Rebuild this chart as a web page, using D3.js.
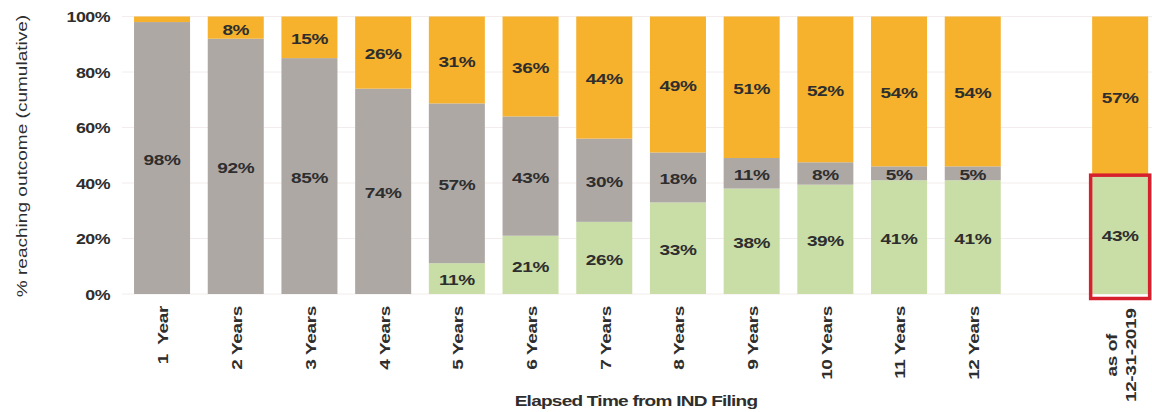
<!DOCTYPE html>
<html>
<head>
<meta charset="utf-8">
<script src="https://cdn.jsdelivr.net/npm/d3@7"></script>
<style>
  html, body { margin: 0; padding: 0; background: #ffffff; }
  svg { display: block; font-family: "Liberation Sans", Arial, sans-serif; }
  .pre { white-space: pre; }
</style>
</head>
<body>
<svg id="chart" width="1152" height="412"></svg>
<script>
// Category labels (a blank slot separates the yearly bars from the current snapshot)
const categories = ["1  Year", "2 Years", "3 Years", "4 Years", "5 Years", "6 Years",
  "7 Years", "8 Years", "9 Years", "10 Years", "11 Years", "12 Years", "", "as of\n12-31-2019"];

// Cumulative share of INDs reaching each outcome (percent)
const approved     = [0, 0, 0, 0, 11, 21, 26, 33, 38, 39, 41, 41, null, 43];
const ongoing      = [98, 92, 85, 74, 57, 43, 30, 18, 11, 8, 5, 5, null, 0];
const discontinued = [2, 8, 15, 26, 31, 36, 44, 49, 51, 52, 54, 54, null, 57];

const yTicks = [0, 0.2, 0.4, 0.6, 0.8, 1.0];

const keys = ["approved", "ongoing", "discontinued"];
const colors = { approved: "#c9dda6", ongoing: "#aea8a5", discontinued: "#f6b12d" };
const highlightIndex = 13;          // the snapshot bar whose green segment is boxed
const WIDE = "scale(1.27,1)";       // wide sans face used throughout
const INK = "#2e2e2e";

const rows = categories.map((c, i) => ({
  i, label: c,
  approved: approved[i], ongoing: ongoing[i], discontinued: discontinued[i]
})).filter(r => r.approved !== null);

const svg = d3.select("#chart");

const x = d3.scaleBand()
  .domain(d3.range(categories.length))
  .range([125.2, 1157])
  .paddingInner(0.24)
  .paddingOuter(0.12);

const y = d3.scaleLinear().domain([0, 1]).range([294, 16.5]);

// light horizontal gridlines
svg.append("g")
  .selectAll("line")
  .data(yTicks)
  .join("line")
  .attr("x1", 122).attr("x2", 1152)
  .attr("y1", d => y(d)).attr("y2", d => y(d))
  .attr("stroke", "#f3ecec")
  .attr("stroke-width", 1);

// y axis tick labels
const yAxis = svg.append("g")
  .attr("transform", "translate(125,0)")
  .call(d3.axisLeft(y).tickValues(yTicks).tickFormat(d3.format(".0%")).tickSize(0));
yAxis.select(".domain").remove();
yAxis.selectAll("text")
  .attr("x", -15 / 1.27)
  .attr("dy", "0.36em")
  .attr("transform", WIDE)
  .attr("font-family", "Liberation Sans, Arial, sans-serif")
  .attr("font-size", 14)
  .attr("font-weight", "bold")
  .attr("letter-spacing", "-0.4")
  .attr("fill", INK);

// stacked, normalised series
const stack = d3.stack().keys(keys).offset(d3.stackOffsetExpand);
const series = stack(rows);

const layer = svg.append("g")
  .selectAll("g")
  .data(series)
  .join("g")
  .attr("fill", s => colors[s.key]);

layer.selectAll("rect")
  .data(s => s)
  .join("rect")
  .attr("x", d => x(d.data.i))
  .attr("width", x.bandwidth())
  .attr("y", d => y(d[1]))
  .attr("height", d => y(d[0]) - y(d[1]));

// value labels inside segments
const labels = svg.append("g")
  .attr("font-size", 15)
  .attr("font-weight", "bold")
  .attr("letter-spacing", "-0.3")
  .attr("fill", INK)
  .attr("text-anchor", "middle");

series.forEach(s => {
  s.forEach(d => {
    const v = d.data[s.key];
    if (v < 4) return;
    const cx = x(d.data.i) + x.bandwidth() / 2;
    const cy = (y(d[0]) + y(d[1])) / 2 + 1.5;
    labels.append("text")
      .attr("transform", `translate(${cx},${cy}) ${WIDE}`)
      .attr("dy", "0.36em")
      .text(v + "%");
  });
});

// red highlight box around the snapshot approval share
const hRow = series[0].find(d => d.data.i === highlightIndex);
svg.append("rect")
  .attr("x", x(highlightIndex) - 1.5)
  .attr("y", y(hRow[1]) + 0.5)
  .attr("width", x.bandwidth() + 3)
  .attr("height", y(hRow[0]) - y(hRow[1]) + 4)
  .attr("fill", "none")
  .attr("stroke", "#d7202e")
  .attr("stroke-width", 3.5);

// rotated category labels
const xLab = svg.append("g")
  .attr("font-size", 15)
  .attr("font-weight", "bold")
  .attr("letter-spacing", "-0.3")
  .attr("fill", INK);

categories.forEach((c, i) => {
  if (!c) return;
  const lines = c.split("\n");
  const cx = x(i) + x.bandwidth() / 2 + 1;
  const g = xLab.append("g")
    .attr("transform", `translate(${cx},306) rotate(-90) ${WIDE}`);
  const texts = lines.map((ln, k) => g.append("text")
    .attr("class", "pre")
    .attr("xml:space", "preserve")
    .attr("y", (k - (lines.length - 1) / 2) * 19)
    .attr("dy", "0.36em")
    .text(ln));
  if (lines.length === 1) {
    texts[0].attr("text-anchor", "end");
  } else {
    const maxLen = d3.max(texts, t => t.node().getComputedTextLength());
    texts.forEach(t => t.attr("text-anchor", "middle").attr("x", -maxLen / 2 - 2));
  }
});

// axis titles
svg.append("text")
  .attr("transform", `translate(636,406) ${WIDE}`)
  .attr("text-anchor", "middle")
  .attr("font-size", 15)
  .attr("font-weight", "bold")
  .attr("letter-spacing", "-0.6")
  .attr("fill", INK)
  .text("Elapsed Time from IND Filing");

svg.append("text")
  .attr("transform", `translate(22,156) rotate(-90) ${WIDE}`)
  .attr("text-anchor", "middle")
  .attr("dy", "0.36em")
  .attr("font-size", 15)
  .attr("fill", INK)
  .text("% reaching outcome (cumulative)");
</script>
</body>
</html>
